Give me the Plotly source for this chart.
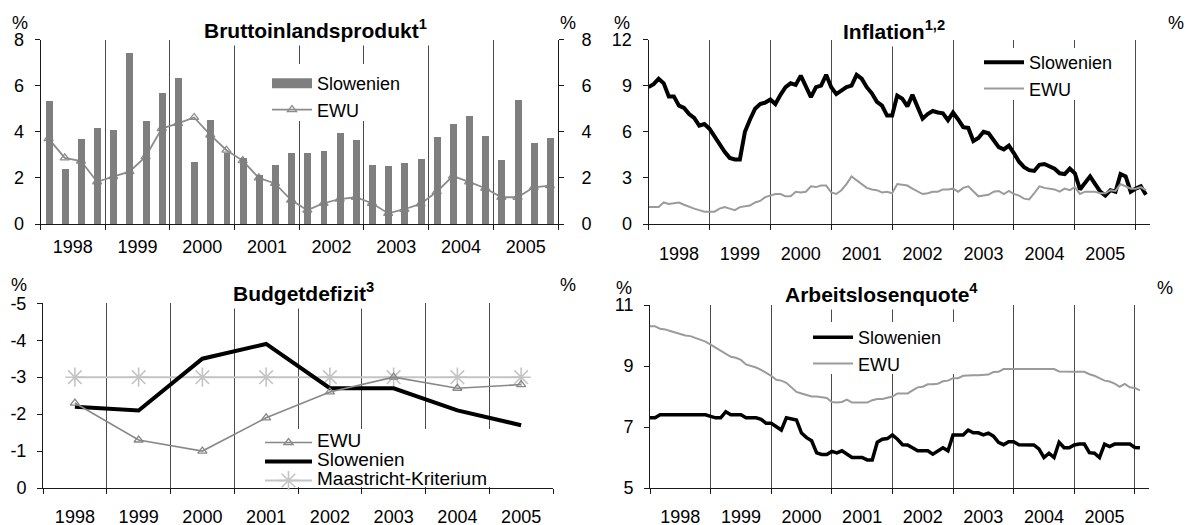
import plotly.graph_objects as go

W, H = 1186, 525


def fx(p):
    return p / W


def fy(p):
    return 1 - p / H


years = ["1998", "1999", "2000", "2001", "2002", "2003", "2004", "2005"]

# Bruttoinlandsprodukt, quarterly, % yoy
gdp_si = [5.35, 2.4, 3.7, 4.2, 4.1, 7.45, 4.5, 5.7,
          6.35, 2.7, 4.55, 3.1, 2.9, 2.15, 2.6, 3.1,
          3.1, 3.2, 3.95, 3.65, 2.6, 2.55, 2.65, 2.85,
          3.8, 4.35, 4.7, 3.85, 2.8, 5.4, 3.55, 3.75]
gdp_ewu = [3.7, 2.87, 2.73, 1.83, 2.05, 2.27, 2.92, 4.14,
           4.36, 4.62, 3.86, 3.2, 2.75, 2.0, 1.76, 1.04,
           0.6, 0.9, 1.08, 1.16, 0.9, 0.46, 0.64, 0.87,
           1.4, 2.08, 1.83, 1.55, 1.16, 1.16, 1.59, 1.66]

# Inflation, monthly from Jan 1998
infl_si = [8.9, 9.1, 9.45, 9.15, 8.3, 8.3, 7.7, 7.55, 7.15, 6.9, 6.4, 6.5,
           6.2, 5.7, 5.15, 4.7, 4.3, 4.2, 4.2, 6.0, 6.8, 7.5, 7.8, 7.9,
           8.1, 7.8, 8.4, 8.9, 9.15, 9.05, 9.65, 8.9, 8.25, 8.9, 9.0, 9.7,
           8.9, 8.45, 8.65, 8.9, 9.0, 9.7, 9.45, 8.9, 8.5, 7.95, 7.7, 7.05,
           7.05, 8.35, 8.15, 7.65, 8.4, 7.6, 6.85, 7.15, 7.35, 7.25, 7.2, 6.75,
           7.25, 6.8, 6.3, 6.25, 5.4, 5.6, 6.0, 5.9, 5.45, 5.0, 4.85, 5.1,
           4.6, 4.05, 3.7, 3.5, 3.45, 3.85, 3.9, 3.75, 3.6, 3.3, 3.25, 3.6,
           3.3, 2.25, 2.7, 3.1, 2.6, 2.1, 1.85, 2.2, 2.1, 3.25, 3.1, 2.1,
           2.3, 2.45, 1.9]
infl_ewu = [1.1, 1.1, 1.1, 1.4, 1.3, 1.35, 1.4, 1.25, 1.1, 1.0, 0.9, 0.8,
            0.8, 0.8, 1.0, 1.1, 1.0, 0.9, 1.1, 1.15, 1.2, 1.4, 1.5, 1.75,
            1.85, 1.95, 1.95, 1.8, 1.8, 2.1, 2.05, 2.1, 2.45, 2.4, 2.5, 2.5,
            2.05, 1.95, 2.2, 2.6, 3.1, 2.85, 2.55, 2.35, 2.25, 2.2, 2.05, 2.1,
            2.0, 2.6, 2.55, 2.5, 2.3, 2.1, 1.95, 2.0, 2.1, 2.1, 2.25, 2.25,
            2.3, 2.1, 2.35, 2.45, 2.1, 1.8, 1.85, 1.9, 2.1, 2.15, 1.95, 2.15,
            1.95, 1.85, 1.65, 1.6, 2.0, 2.45, 2.35, 2.3, 2.25, 2.1, 2.3, 2.2,
            2.4, 1.95, 2.1, 2.1, 2.1, 2.0, 2.0, 2.2, 2.15, 2.6, 2.45, 2.3,
            2.3, 2.4, 2.2]

# Budgetdefizit, annual, % of GDP
budget_ewu = [-2.3, -1.3, -1.0, -1.9, -2.6, -3.0, -2.7, -2.8]
budget_si = [-2.2, -2.1, -3.5, -3.9, -2.7, -2.7, -2.1, -1.7]
maastricht = [-3.0, -3.0, -3.0, -3.0, -3.0, -3.0, -3.0, -3.0]

# Arbeitslosenquote, monthly from Jan 1998
unemp_si = [7.3, 7.3, 7.4, 7.4, 7.4, 7.4, 7.4, 7.4, 7.4, 7.4, 7.4, 7.4,
            7.35, 7.3, 7.3, 7.5, 7.4, 7.4, 7.4, 7.3, 7.3, 7.3, 7.25, 7.12,
            7.12, 7.0, 6.9, 7.3, 7.25, 7.23, 6.8, 6.65, 6.55, 6.15, 6.1, 6.1,
            6.2, 6.15, 6.22, 6.12, 6.0, 6.0, 6.0, 5.92, 5.92, 6.5, 6.6, 6.62,
            6.74, 6.6, 6.42, 6.41, 6.32, 6.22, 6.22, 6.22, 6.11, 6.2, 6.32, 6.22,
            6.74, 6.74, 6.74, 6.9, 6.81, 6.81, 6.74, 6.8, 6.7, 6.5, 6.42, 6.52,
            6.52, 6.42, 6.41, 6.41, 6.41, 6.28, 6.0, 6.14, 6.0, 6.5, 6.32, 6.32,
            6.41, 6.44, 6.44, 6.16, 6.14, 6.0, 6.44, 6.36, 6.44, 6.44, 6.44, 6.44,
            6.33, 6.32]
unemp_ewu = [10.3, 10.3, 10.22, 10.2, 10.15, 10.1, 10.05, 10.0, 9.98, 9.92, 9.88, 9.8,
             9.7, 9.6, 9.5, 9.4, 9.3, 9.27, 9.2, 9.05, 9.0, 8.95, 8.87, 8.78,
             8.68, 8.55, 8.52, 8.45, 8.3, 8.15, 8.1, 8.05, 8.0, 8.0, 7.97, 7.95,
             7.82, 7.8, 7.82, 7.9, 7.8, 7.8, 7.8, 7.8, 7.88, 7.92, 7.92, 7.97,
             8.0, 8.1, 8.1, 8.1, 8.2, 8.3, 8.32, 8.4, 8.4, 8.42, 8.5, 8.52,
             8.6, 8.6, 8.68, 8.7, 8.7, 8.7, 8.7, 8.72, 8.8, 8.81, 8.9, 8.9,
             8.9, 8.9, 8.9, 8.9, 8.9, 8.9, 8.9, 8.9, 8.9, 8.82, 8.81, 8.81,
             8.81, 8.81, 8.81, 8.73, 8.68, 8.6, 8.52, 8.49, 8.42, 8.32, 8.41, 8.3,
             8.28, 8.2]

FONT = "Liberation Sans, Arial, Helvetica, sans-serif"
AX = "#1a1a1a"
GRID = "#4a4a4a"
BAR = "#7f7f7f"
EWU_GDP = "#8c8c8c"
EWU_LINE = "#9b9b9b"
MAAS = "#c4c4c4"
CLEAR = "rgba(0,0,0,0)"

quarters = list(range(len(gdp_si)))
months_i = list(range(len(infl_si)))
months_u = list(range(len(unemp_si)))
yrs = list(range(len(years)))

fig = go.Figure()

# --- Bruttoinlandsprodukt: EWU line sits behind the bars (bars on the overlay axis) ---
fig.add_trace(go.Scatter(
    x=quarters, y=gdp_ewu, name="EWU", mode="lines+markers",
    line=dict(color=EWU_GDP, width=1.8),
    marker=dict(symbol="triangle-up-open", size=8, color=EWU_GDP, line=dict(width=1.3)),
    xaxis="x", yaxis="y", legend="legend", legendrank=2))
fig.add_trace(go.Bar(
    x=quarters, y=gdp_si, name="Slowenien", marker=dict(color=BAR, line=dict(width=0)),
    width=0.43, xaxis="x", yaxis="y5", showlegend=False))
# legend key for the bars: a wide grey swatch
fig.add_trace(go.Scatter(
    x=[None], y=[None], name="Slowenien", mode="lines",
    line=dict(color=BAR, width=11), hoverinfo="skip",
    xaxis="x", yaxis="y", legend="legend", legendrank=1))

# --- Inflation ---
fig.add_trace(go.Scatter(
    x=months_i, y=infl_si, name="Slowenien", mode="lines",
    line=dict(color="#000000", width=4),
    xaxis="x2", yaxis="y2", legend="legend2", legendrank=1))
fig.add_trace(go.Scatter(
    x=months_i, y=infl_ewu, name="EWU", mode="lines",
    line=dict(color=EWU_LINE, width=2),
    xaxis="x2", yaxis="y2", legend="legend2", legendrank=2))

# --- Budgetdefizit (tight legend rows, text enlarged per entry) ---
LEG3 = '<span style="font-size:19px">{}</span>'
fig.add_trace(go.Scatter(
    x=yrs, y=maastricht, name=LEG3.format("Maastricht-Kriterium"), mode="lines+markers",
    line=dict(color=MAAS, width=2),
    marker=dict(symbol="asterisk-open", size=16, color=MAAS, line=dict(width=1.6, color=MAAS)),
    xaxis="x3", yaxis="y3", legend="legend3", legendrank=3))
fig.add_trace(go.Scatter(
    x=yrs, y=budget_si, name=LEG3.format("Slowenien"), mode="lines",
    line=dict(color="#000000", width=4),
    xaxis="x3", yaxis="y3", legend="legend3", legendrank=2))
fig.add_trace(go.Scatter(
    x=yrs, y=budget_ewu, name=LEG3.format("EWU"), mode="lines+markers",
    line=dict(color="#888888", width=1.6),
    marker=dict(symbol="triangle-up-open", size=8, color="#888888", line=dict(width=1.3)),
    xaxis="x3", yaxis="y3", legend="legend3", legendrank=1))

# --- Arbeitslosenquote ---
fig.add_trace(go.Scatter(
    x=months_u, y=unemp_si, name="Slowenien", mode="lines",
    line=dict(color="#000000", width=3.5),
    xaxis="x4", yaxis="y4", legend="legend4", legendrank=1))
fig.add_trace(go.Scatter(
    x=months_u, y=unemp_ewu, name="EWU", mode="lines",
    line=dict(color=EWU_LINE, width=2),
    xaxis="x4", yaxis="y4", legend="legend4", legendrank=2))

tickfont = dict(family=FONT, size=18, color="#000000")


def xaxis(dom, anchor, rng, centers, bounds, standoff):
    return dict(domain=dom, anchor=anchor, range=rng, fixedrange=True, automargin=False,
                showline=True, linecolor=AX, linewidth=1, zeroline=False,
                tickmode="array", tickvals=centers, ticktext=years, ticks="",
                showgrid=False, tickfont=tickfont, ticklabelstandoff=standoff,
                minor=dict(tickmode="array", tickvals=bounds, ticks="outside",
                           ticklen=5, tickwidth=1, tickcolor=AX,
                           showgrid=True, gridcolor=GRID, gridwidth=1))


def yaxis(dom, anchor, rng, vals, side="left", overlay=None):
    d = dict(domain=dom, anchor=anchor, range=rng, fixedrange=True, side=side, automargin=False,
             showline=True, linecolor=AX, linewidth=1, zeroline=False, showgrid=False,
             tickmode="array", tickvals=vals, ticktext=[str(v) for v in vals],
             ticks="outside", ticklen=5, tickwidth=1, tickcolor=AX,
             tickfont=tickfont, ticklabelstandoff=7 if side == "left" else 14)
    if overlay:
        d["overlaying"] = overlay
    return d


# plot areas in pixels: (left, right, top, bottom)
P1 = (40.5, 558, 39.5, 224)
P2 = (648.5, 1150, 39.5, 224)
P3 = (43, 553, 303.3, 488)
P4 = (650, 1149, 305, 488)


def xdom(p):
    return [fx(p[0]), fx(p[1])]


def ydom(p):
    return [fy(p[3]), fy(p[2])]


q_centers = [4 * k + 1.5 for k in range(8)]
q_bounds = [4 * k - 0.5 for k in range(9)]
m_centers = [12 * k + 6 for k in range(8)]
m_bounds = [12 * k for k in range(9)]
y_bounds = [k - 0.5 for k in range(9)]

gdp_ticks = [0, 2, 4, 6, 8]
infl_ticks = [0, 3, 6, 9, 12]
budget_ticks = [0, -1, -2, -3, -4, -5]
unemp_ticks = [5, 7, 9, 11]


def legend(x, y, size, iw):
    return dict(x=fx(x), y=fy(y), xanchor="left", yanchor="top", bgcolor=CLEAR,
                font=dict(family=FONT, size=size, color="#000000"), itemwidth=iw,
                tracegroupgap=0, borderwidth=0)


fig.update_layout(
    width=W, height=H, margin=dict(l=0, r=0, t=0, b=0, autoexpand=False),
    paper_bgcolor="white", plot_bgcolor="white",
    font=dict(family=FONT, size=18, color="#000000"),
    bargap=0,
    xaxis=xaxis(xdom(P1), "y", [-0.5, 31.5], q_centers, q_bounds, 6),
    xaxis2=xaxis(xdom(P2), "y2", [0, 98.8], m_centers, m_bounds, 13),
    xaxis3=xaxis(xdom(P3), "y3", [-0.5, 7.5], yrs, y_bounds, 12),
    xaxis4=xaxis(xdom(P4), "y4", [0, 98.8], m_centers, m_bounds, 12),
    yaxis=yaxis(ydom(P1), "x", [0, 8], gdp_ticks),
    yaxis5=yaxis(ydom(P1), "x", [0, 8], gdp_ticks, side="right", overlay="y"),
    yaxis2=yaxis(ydom(P2), "x2", [0, 12], infl_ticks),
    yaxis6=yaxis(ydom(P2), "x2", [0, 12], infl_ticks, side="right", overlay="y2"),
    yaxis3=yaxis(ydom(P3), "x3", [0, -5], budget_ticks),
    yaxis7=yaxis(ydom(P3), "x3", [0, -5], budget_ticks, side="right", overlay="y3"),
    yaxis4=yaxis(ydom(P4), "x4", [5, 11], unemp_ticks),
    yaxis8=yaxis(ydom(P4), "x4", [5, 11], unemp_ticks, side="right", overlay="y4"),
    legend=legend(267, 65, 18, 40),
    legend2=legend(979, 44, 18, 40),
    legend3=legend(260, 428, 11, 47),
    legend4=legend(808, 319, 18, 40),
)

# white panels behind the legend texts hide the year gridlines there
legend_boxes = [
    (265, 405, 64, 121),
    (979, 1125, 48, 100),
    (262, 497, 429, 487),
    (808, 960, 322, 374),
]
shapes = []
for l, r, t, b in legend_boxes:
    shapes.append(dict(type="rect", xref="paper", yref="paper", layer="above",
                       x0=fx(l), x1=fx(r), y0=fy(b), y1=fy(t),
                       fillcolor="white", line=dict(width=0)))
fig.update_layout(shapes=shapes)

titles = [
    ("Bruttoinlandsprodukt<sup>1</sup>", 315, 29),
    ("Inflation<sup>1,2</sup>", 894, 30),
    ("Budgetdefizit<sup>3</sup>", 303, 292),
    ("Arbeitslosenquote<sup>4</sup>", 881, 293),
]
annotations = []
for text, x, y in titles:
    annotations.append(dict(text="<b>" + text + "</b>", x=fx(x), y=fy(y), xref="paper", yref="paper",
                            xanchor="center", yanchor="middle", showarrow=False,
                            font=dict(family=FONT, size=21, color="#000000"),
                            bgcolor="white", borderpad=3))

for x, y in [(20, 23), (568, 23), (622, 23), (1176, 23), (19, 285), (568, 285), (624, 288), (1165, 288)]:
    annotations.append(dict(text="%", x=fx(x), y=fy(y), xref="paper", yref="paper",
                            xanchor="center", yanchor="middle", showarrow=False,
                            font=dict(family=FONT, size=18, color="#000000")))

fig.update_layout(annotations=annotations)

fig.write_html("out.html")
